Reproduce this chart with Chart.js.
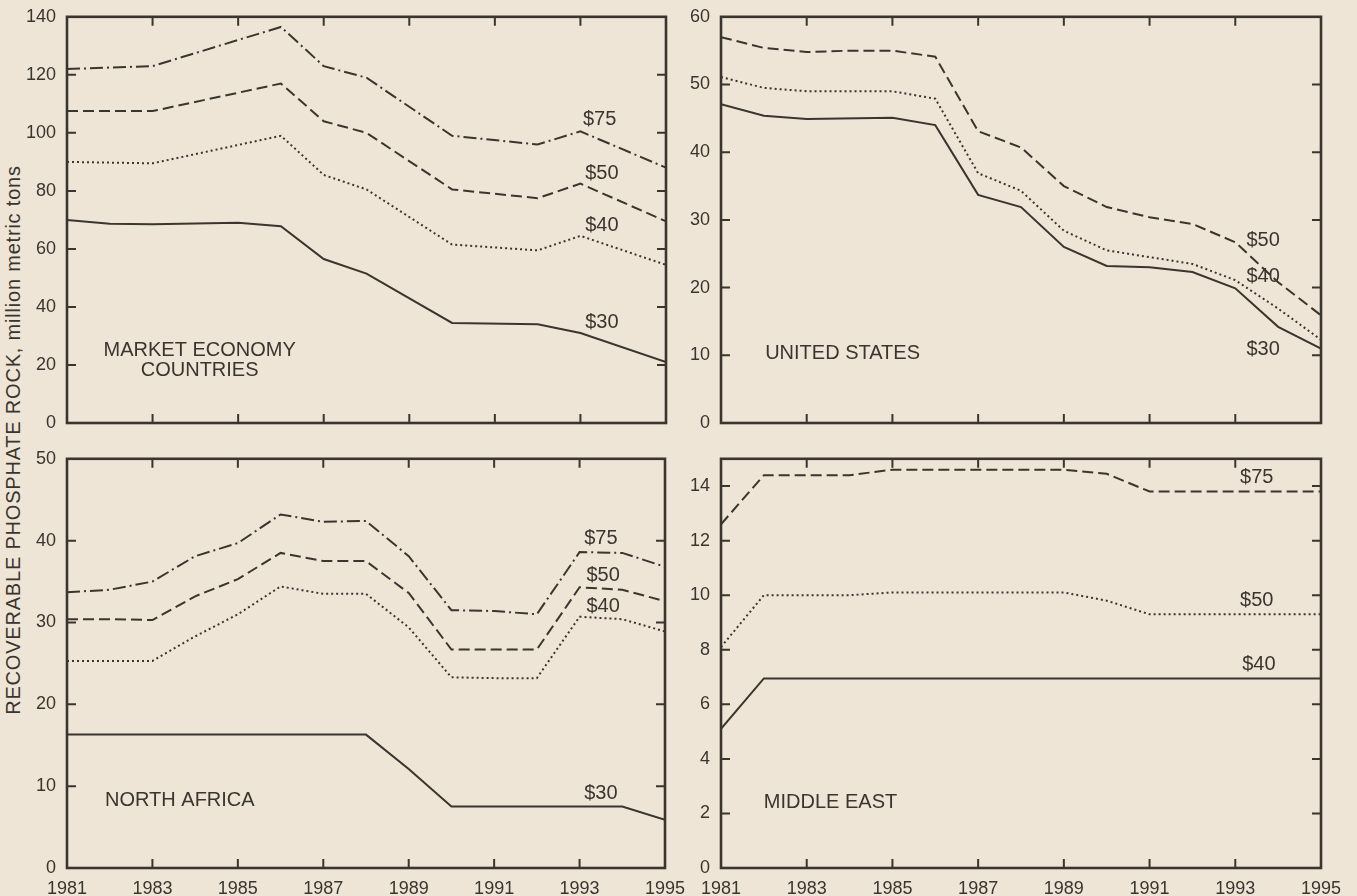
<!DOCTYPE html>
<html>
<head>
<meta charset="utf-8">
<script src="https://cdn.jsdelivr.net/npm/chart.js@4.4.1/dist/chart.umd.min.js"></script>
<style>
  html, body { margin: 0; padding: 0; background: #eee5d6; }
  body { width: 1357px; height: 896px; position: relative; overflow: hidden; font-family: "Liberation Sans", Arial, sans-serif; }
  .panel { position: absolute; }
  #ytitle {
    position: absolute; left: 13px; top: 440px;
    transform: translate(-50%, -50%) rotate(-90deg);
    white-space: nowrap; font-size: 20px; letter-spacing: 0.8px; color: #3a342e;
  }
</style>
</head>
<body>
<div id="ytitle">RECOVERABLE PHOSPHATE ROCK, million metric tons</div>
<div class="panel" id="p1"><canvas></canvas></div>
<div class="panel" id="p2"><canvas></canvas></div>
<div class="panel" id="p3"><canvas></canvas></div>
<div class="panel" id="p4"><canvas></canvas></div>
<script>
const years = [1981, 1982, 1983, 1984, 1985, 1986, 1987, 1988, 1989, 1990, 1991, 1992, 1993, 1994, 1995];
const yearTicks = [1981, 1983, 1985, 1987, 1989, 1991, 1993, 1995];

// market economy countries
const mecTicks = [0, 20, 40, 60, 80, 100, 120, 140];
const mec75 = [122, null, 123, null, null, 136.5, 123, 119, null, 99, null, 96, 100.5, null, 88];
const mec50 = [107.5, null, 107.5, null, null, 117, 104, 100, null, 80.5, null, 77.5, 82.5, null, 69.5];
const mec40 = [90, null, 89.5, null, null, 99, 85.5, 80.5, null, 61.5, null, 59.5, 64.5, null, 54.5];
const mec30 = [70, 68.7, 68.5, null, 69, 67.8, 56.5, 51.5, null, 34.5, null, 34, 31, null, 21];

// united states
const usTicks = [0, 10, 20, 30, 40, 50, 60];
const us50 = [57, 55.4, 54.8, 55, 55, 54.1, 43.1, 40.7, 35, 31.9, 30.4, 29.4, 26.7, 20.8, 15.9];
const us40 = [51.1, 49.5, 49, null, 49, 47.9, 36.9, 34.3, 28.4, 25.5, 24.5, 23.5, 21.1, 16.9, 12.3];
const us30 = [47.1, 45.4, 44.9, null, 45.1, 44, 33.7, 31.9, 26, 23.2, 23, 22.3, 19.9, 14.2, 11];

// north africa
const naTicks = [0, 10, 20, 30, 40, 50];
const na75 = [33.7, 34, 35, 38.1, 39.7, 43.2, 42.3, 42.4, 38.1, 31.5, 31.4, 31, 38.6, 38.5, 36.8];
const na50 = [30.4, 30.4, 30.3, 33.2, 35.3, 38.5, 37.5, 37.5, 33.6, 26.7, 26.7, 26.7, 34.3, 34, 32.6];
const na40 = [25.3, 25.3, 25.3, 28.3, 31, 34.4, 33.5, 33.5, 29.4, 23.3, 23.2, 23.2, 30.7, 30.4, 28.9];
const na30 = [16.3, 16.3, 16.3, 16.3, 16.3, 16.3, 16.3, 16.3, 12.1, 7.5, 7.5, 7.5, 7.5, 7.5, 5.9];

// middle east
const meTicks = [0, 2, 4, 6, 8, 10, 12, 14];
const me75 = [12.6, 14.4, 14.4, 14.4, 14.6, 14.6, 14.6, 14.6, 14.6, 14.45, 13.8, 13.8, 13.8, 13.8, 13.8];
const me50 = [8.1, 10, 10, 10, 10.1, 10.1, 10.1, 10.1, 10.1, 9.8, 9.3, 9.3, 9.3, 9.3, 9.3];
const me40 = [5.1, 6.95, 6.95, 6.95, 6.95, 6.95, 6.95, 6.95, 6.95, 6.95, 6.95, 6.95, 6.95, 6.95, 6.95];

const ink = '#3b352f';
const tickFont = { size: 18, family: '"Liberation Sans", Arial, sans-serif' };
const DASHDOT = [13, 4, 2, 4], DASH = [11, 5], DOT = [2, 3], SOLID = [];

const frame = {
  id: 'frame',
  afterDatasetsDraw(chart, args, opts) {
    const { ctx, chartArea: a, scales: { x, y } } = chart;
    ctx.save();
    ctx.strokeStyle = ink;
    ctx.lineWidth = 2;
    ctx.beginPath();
    yearTicks.slice(1, -1).forEach(v => {
      const px = x.getPixelForValue(v);
      ctx.moveTo(px, a.bottom); ctx.lineTo(px, a.bottom - 9);
      ctx.moveTo(px, a.top); ctx.lineTo(px, a.top + 9);
    });
    opts.yTicks.slice(1).forEach(v => {
      const py = y.getPixelForValue(v);
      if (Math.abs(py - a.top) < 2) return;
      ctx.moveTo(a.left, py); ctx.lineTo(a.left + 9, py);
      ctx.moveTo(a.right, py); ctx.lineTo(a.right - 9, py);
    });
    ctx.stroke();
    ctx.lineWidth = 2.6;
    ctx.strokeRect(a.left, a.top, a.right - a.left, a.bottom - a.top);
    ctx.fillStyle = ink;
    ctx.font = '20px "Liberation Sans", Arial, sans-serif';
    ctx.textBaseline = 'middle';
    opts.notes.forEach(n => {
      ctx.textAlign = n.align || 'center';
      ctx.fillText(n.text, x.getPixelForValue(n.x), y.getPixelForValue(n.y));
    });
    ctx.restore();
  }
};

function makePanel(id, box, yTicks, yMax, sets, notes, showYears) {
  const wrap = document.getElementById(id);
  const w = box.r - box.l + 90, h = box.b - box.t + 42;
  wrap.style.left = (box.l - 60) + 'px';
  wrap.style.top = (box.t - 12) + 'px';
  const cv = wrap.querySelector('canvas');
  cv.width = w; cv.height = h;
  new Chart(cv, {
    type: 'line',
    data: {
      datasets: sets.map(s => ({
        data: years.map((yr, i) => ({ x: yr, y: s.vals[i] })).filter(p => p.y !== null),
        borderColor: ink,
        borderWidth: 2,
        borderDash: s.dash,
        pointRadius: 0,
        tension: 0,
        fill: false
      }))
    },
    options: {
      responsive: false,
      animation: false,
      events: [],
      layout: { padding: { top: 12, right: 30, left: 0, bottom: 0 } },
      scales: {
        x: {
          type: 'linear', min: 1981, max: 1995,
          afterBuildTicks: s => { s.ticks = yearTicks.map(v => ({ value: v })); },
          afterFit: s => { s.height = 30; },
          grid: { display: false }, border: { display: false },
          ticks: { display: showYears, color: ink, font: tickFont, padding: 2, maxRotation: 0, callback: v => String(v) }
        },
        y: {
          min: 0, max: yMax,
          afterBuildTicks: s => { s.ticks = yTicks.map(v => ({ value: v })); },
          afterFit: s => { s.width = 60; },
          grid: { display: false }, border: { display: false },
          ticks: { color: ink, font: tickFont, padding: 3, callback: v => String(v) }
        }
      },
      plugins: {
        legend: { display: false },
        tooltip: { enabled: false },
        frame: { yTicks, notes }
      }
    },
    plugins: [frame]
  });
}

makePanel('p1', { l: 67, t: 15, r: 666, b: 423 }, mecTicks, 140, [
  { vals: mec75, dash: DASHDOT },
  { vals: mec50, dash: DASH },
  { vals: mec40, dash: DOT },
  { vals: mec30, dash: SOLID }
], [
  { text: '$75', x: 1993.45, y: 104.5 },
  { text: '$50', x: 1993.5, y: 86 },
  { text: '$40', x: 1993.5, y: 68 },
  { text: '$30', x: 1993.5, y: 34.8 },
  { text: 'MARKET ECONOMY', x: 1984.1, y: 25.1 },
  { text: 'COUNTRIES', x: 1984.1, y: 18 }
], false);

makePanel('p2', { l: 721, t: 15, r: 1321, b: 423 }, usTicks, 60, [
  { vals: us50, dash: DASH },
  { vals: us40, dash: DOT },
  { vals: us30, dash: SOLID }
], [
  { text: '$50', x: 1993.65, y: 27 },
  { text: '$40', x: 1993.65, y: 21.6 },
  { text: '$30', x: 1993.65, y: 10.8 },
  { text: 'UNITED STATES', x: 1982.03, y: 10.3, align: 'left' }
], false);

makePanel('p3', { l: 67, t: 457, r: 665, b: 868 }, naTicks, 50, [
  { vals: na75, dash: DASHDOT },
  { vals: na50, dash: DASH },
  { vals: na40, dash: DOT },
  { vals: na30, dash: SOLID }
], [
  { text: '$75', x: 1993.5, y: 40.3 },
  { text: '$50', x: 1993.55, y: 35.8 },
  { text: '$40', x: 1993.55, y: 32 },
  { text: '$30', x: 1993.5, y: 9.1 },
  { text: 'NORTH AFRICA', x: 1981.89, y: 8.3, align: 'left' }
], true);

makePanel('p4', { l: 721, t: 457, r: 1321, b: 868 }, meTicks, 15, [
  { vals: me75, dash: DASH },
  { vals: me50, dash: DOT },
  { vals: me40, dash: SOLID }
], [
  { text: '$75', x: 1993.5, y: 14.3 },
  { text: '$50', x: 1993.5, y: 9.8 },
  { text: '$40', x: 1993.55, y: 7.45 },
  { text: 'MIDDLE EAST', x: 1982.0, y: 2.4, align: 'left' }
], true);
</script>
</body>
</html>
